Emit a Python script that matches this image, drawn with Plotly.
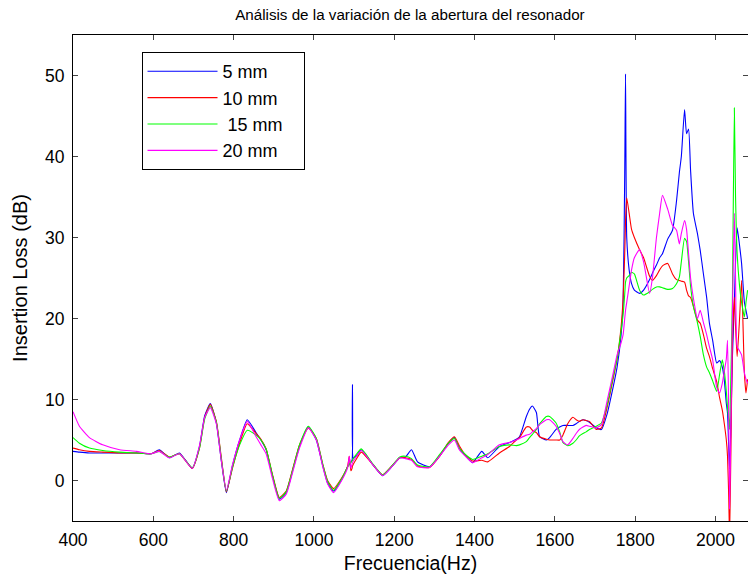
import plotly.graph_objects as go

# Frequency grid (Hz)
freq = [400, 416, 441, 474, 516, 558, 595, 615, 640, 665,
        697, 715, 728, 742, 757, 770, 782, 797, 815, 834,
        856, 868, 881, 897, 914, 931, 948, 964, 986, 1006,
        1022, 1034, 1049, 1069, 1084, 1088, 1092, 1095, 1096, 1098,
        1105, 1118, 1146, 1171, 1194, 1214, 1228, 1243, 1258, 1288,
        1313, 1335, 1350, 1362, 1375, 1395, 1418, 1433, 1462, 1487,
        1504, 1512, 1529, 1537, 1544, 1554, 1562, 1579, 1587, 1603,
        1612, 1620, 1632, 1645, 1653, 1661, 1670, 1678, 1686, 1703,
        1716, 1730, 1745, 1755, 1765, 1770, 1774, 1776, 1779, 1785,
        1791, 1798, 1811, 1821, 1836, 1843, 1853, 1861, 1868, 1881,
        1893, 1903, 1910, 1915, 1923, 1928, 1933, 1938, 1945, 1955,
        1962, 1970, 1978, 1985, 1993, 2003, 2010, 2017, 2022, 2027,
        2030, 2033, 2035, 2038, 2042, 2047, 2050, 2054, 2060, 2065,
        2072, 2076, 2080]

il_5mm = [3.6, 3.5, 3.4, 3.4, 3.4, 3.4, 3.3, 3.8, 2.8, 3.4,
          1.5, 4.2, 8.0, 9.5, 7.1, 2.2, -1.5, 1.8, 5.0, 7.5,
          5.9, 5.0, 3.8, 0.5, -2.3, -1.5, 1.4, 4.2, 6.6, 5.0,
          1.8, -0.3, -1.3, 0.1, 1.7, 2.0, 2.3, 2.5, 11.8, 2.8,
          3.0, 3.8, 2.0, 0.6, 1.7, 2.8, 2.9, 3.8, 2.3, 1.7,
          3.0, 4.6, 5.3, 4.0, 3.2, 2.2, 3.6, 2.8, 4.2, 4.7,
          5.1, 5.4, 7.9, 8.8, 9.2, 8.4, 5.4, 5.0, 5.3, 6.3,
          6.6, 6.8, 6.8, 6.8, 7.0, 7.3, 7.5, 7.4, 7.2, 6.5,
          6.3, 8.2, 11.5, 14.0, 18.0, 22.0, 38.0, 50.2, 30.0, 26.0,
          24.3, 23.5, 23.1, 23.5, 24.8, 25.6, 26.6, 27.5, 28.0, 29.8,
          30.9, 34.5, 38.0, 40.0, 45.8, 42.8, 43.4, 38.3, 33.0, 30.5,
          28.4, 25.5, 22.6, 19.4, 17.3, 14.5, 14.8, 14.0, 12.4, 9.5,
          8.3, 4.0, 1.4, 6.0, 15.0, 22.0, 27.0, 31.2, 29.0, 26.8,
          22.0, 21.0, 20.0]

il_10mm = [4.0, 3.8, 3.6, 3.5, 3.4, 3.4, 3.3, 3.7, 2.9, 3.3,
           1.5, 4.0, 7.8, 9.4, 7.3, 2.6, -1.4, 1.5, 4.6, 7.0,
           5.8, 5.1, 3.9, 0.7, -2.1, -1.3, 1.6, 4.4, 6.5, 5.2,
           2.0, 0.0, -1.0, 0.3, 1.8, 3.0, 1.2, 1.5, 1.8, 2.0,
           2.6, 3.5, 2.0, 0.7, 1.8, 2.8, 2.8, 2.6, 1.8, 1.6,
           3.0, 4.7, 5.4, 4.3, 3.3, 2.4, 2.5, 2.3, 3.4, 4.2,
           5.0, 5.3, 6.6, 6.6, 6.2, 5.9, 5.4, 5.1, 5.0, 5.0,
           5.0, 5.6, 7.0, 7.8, 7.5, 7.3, 7.5, 7.4, 7.3, 6.3,
           6.5, 9.0, 12.5, 15.0, 19.0, 22.5, 28.0, 32.0, 34.9, 33.0,
           31.0, 30.0, 28.5, 27.5, 25.2, 24.7, 25.3, 26.0, 26.5, 26.8,
           25.5, 24.8, 24.7, 24.6, 24.5, 23.5, 22.8, 22.6, 21.5, 19.8,
           19.4, 18.0, 16.3, 15.3, 13.8, 12.2, 10.3, 8.7, 7.0, 5.0,
           3.0, -2.0, -7.0, 2.0, 16.5, 22.6, 19.0, 15.3, 20.0, 24.7,
           13.3, 10.8, 12.5]

il_15mm = [5.3, 4.6, 4.0, 3.7, 3.5, 3.4, 3.3, 3.6, 2.9, 3.3,
           1.6, 4.0, 7.6, 9.2, 7.2, 2.4, -1.3, 1.6, 4.4, 6.2,
           5.6, 5.0, 3.9, 0.6, -2.2, -1.4, 1.5, 4.4, 6.7, 5.2,
           2.0, -0.1, -1.2, 0.2, 1.7, 2.0, 2.2, 2.4, 2.5, 2.7,
           3.2, 3.9, 2.1, 0.7, 1.8, 2.9, 3.0, 2.7, 1.9, 1.7,
           3.2, 4.6, 5.2, 4.0, 3.3, 2.6, 3.0, 3.3, 4.2, 4.4,
           4.3, 4.4, 4.8, 5.3, 5.7, 6.3, 7.0, 7.9, 7.9, 7.1,
           6.0, 4.7, 4.3, 4.6, 5.0, 5.5, 5.8, 6.0, 6.3, 6.7,
           7.1, 9.3, 12.8, 15.0, 18.5, 20.5, 23.0, 24.5, 25.0, 25.3,
           25.7, 25.5, 23.5, 22.9, 23.3, 23.6, 23.9, 23.9, 23.8, 23.6,
           23.7, 24.3, 25.1, 27.0, 29.9, 29.5, 27.0, 24.0, 21.5, 19.5,
           17.8, 15.5, 14.0, 13.3, 12.3, 11.0, 13.0, 14.9, 13.5, 11.0,
           9.0, 7.5, 6.3, 12.0, 22.0, 46.0, 35.0, 28.0, 24.0, 22.0,
           20.2, 22.0, 23.5]

il_20mm = [8.5, 6.7, 5.3, 4.4, 3.8, 3.6, 3.3, 3.6, 2.8, 3.3,
           1.5, 4.3, 7.8, 9.0, 7.0, 2.2, -1.2, 1.9, 5.0, 7.3,
           5.4, 4.4, 3.3, 0.2, -2.5, -1.7, 1.2, 4.0, 6.5, 5.0,
           1.7, -0.4, -1.5, 0.0, 1.6, 3.0, 1.5, 2.0, 2.2, 2.4,
           2.9, 3.7, 2.0, 0.6, 1.7, 2.8, 2.7, 2.5, 1.7, 1.6,
           3.0, 4.4, 5.0, 3.8, 3.1, 2.2, 2.8, 3.2, 4.4, 4.7,
           5.0, 5.2, 5.6, 5.7, 6.0, 6.4, 6.9, 7.5, 7.5, 6.7,
           5.8, 4.8, 4.4, 5.2, 5.8, 6.3, 6.6, 6.8, 6.7, 6.5,
           6.9, 9.8, 13.2, 15.5, 17.0, 18.0, 20.0, 21.0, 22.0, 24.0,
           26.0, 27.5, 28.5, 27.0, 23.1, 25.0, 30.0, 33.0, 35.2, 33.5,
           31.5, 30.9, 29.2, 30.5, 32.1, 31.0, 28.0, 25.0, 22.5, 20.0,
           21.0, 19.5, 18.0, 16.5, 14.9, 11.5, 10.8, 12.0, 13.5, 15.0,
           17.3, 8.0, -3.5, 5.0, 20.0, 33.0, 25.0, 16.5, 16.0, 15.5,
           13.3, 12.5, 12.0]

series_names = ["5 mm", "10 mm", " 15 mm", "20 mm"]
series_colors = ["#0000FF", "#FF0000", "#00FF00", "#FF00FF"]
series_values = [il_5mm, il_10mm, il_15mm, il_20mm]

x_ticks = [400, 600, 800, 1000, 1200, 1400, 1600, 1800, 2000]
y_ticks = [0, 10, 20, 30, 40, 50]

for v in series_values:
    assert len(v) == len(freq), (len(v), len(freq))

font_family = "Liberation Sans, Arial, sans-serif"
pad = "\u00a0" * 3

fig = go.Figure()
for name, color, vals in zip(series_names, series_colors, series_values):
    fig.add_trace(go.Scatter(x=freq, y=vals, mode="lines", name=name + pad,
                             legendgroup=name,
                             line=dict(color=color, width=1.1,
                                       shape="spline", smoothing=0.5)))

fig.update_layout(
    width=748, height=574,
    margin=dict(l=73, r=0, t=35, b=53),
    paper_bgcolor="white", plot_bgcolor="white",
    font=dict(family=font_family, size=17, color="black"),
    title=dict(text="Análisis de la variación de la abertura del resonador",
               x=0.548, xanchor="center", y=0.975, yanchor="middle",
               font=dict(size=15.2, family=font_family, color="black")),
    showlegend=True,
    legend=dict(x=0.1015, y=0.965, xanchor="left", yanchor="top",
                bordercolor="black", borderwidth=1, bgcolor="white",
                font=dict(size=18, family=font_family, color="black"),
                itemwidth=70, tracegroupgap=0),
)
fig.update_xaxes(range=[400, 2081], tickvals=x_ticks, ticks="inside", ticklen=5,
                 showline=True, linecolor="black", linewidth=1, mirror="ticks",
                 showgrid=False, zeroline=False, ticklabelstandoff=3,
                 title=dict(text="Frecuencia(Hz)", standoff=8,
                            font=dict(size=19.5, family=font_family)),
                 tickfont=dict(size=17.5, family=font_family))
fig.update_yaxes(range=[-5, 55], tickvals=y_ticks, ticks="inside", ticklen=5,
                 showline=True, linecolor="black", linewidth=1, mirror="ticks",
                 showgrid=False, zeroline=False, ticklabelstandoff=4,
                 title=dict(text="Insertion Loss (dB)", standoff=12,
                            font=dict(size=20, family=font_family)),
                 tickfont=dict(size=17.5, family=font_family))

fig.write_html("out.html")
